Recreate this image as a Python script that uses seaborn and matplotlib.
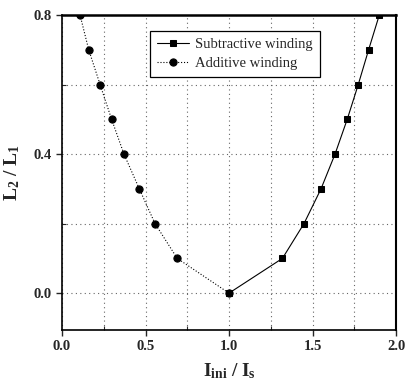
import numpy as np
import pandas as pd
import matplotlib
matplotlib.use("Agg")
import matplotlib.pyplot as plt
import seaborn as sns
from matplotlib.ticker import MultipleLocator

# Data
sub_x = [1.0, 1.32, 1.449, 1.551, 1.635, 1.708, 1.774, 1.836, 1.90]
sub_y = [0.0, 0.1, 0.2, 0.3, 0.4, 0.5, 0.6, 0.7, 0.8]
add_x = [0.108, 0.16, 0.228, 0.297, 0.371, 0.463, 0.557, 0.69, 1.0]
add_y = [0.8, 0.7, 0.6, 0.5, 0.4, 0.3, 0.2, 0.1, 0.0]
x_ticks = [0.0, 0.5, 1.0, 1.5, 2.0]
y_ticks = [0.0, 0.4, 0.8]

sns.set_style("ticks")
plt.rcParams['font.family'] = ['Liberation Serif', 'DejaVu Serif']
plt.rcParams['mathtext.fontset'] = 'custom'
plt.rcParams['mathtext.rm'] = 'Liberation Serif'
plt.rcParams['mathtext.bf'] = 'Liberation Serif:bold'
plt.rcParams['mathtext.it'] = 'Liberation Serif:italic'

fig = plt.figure(figsize=(4.08, 3.85), dpi=100)
ax = fig.add_axes([62/408, 55/385, (396-62)/408, (330-15)/385])

df_sub = pd.DataFrame({"x": sub_x, "y": sub_y})
df_add = pd.DataFrame({"x": add_x, "y": add_y})

sns.lineplot(data=df_sub, x="x", y="y", ax=ax, color="black", linewidth=0.8,
             linestyle='-', marker='s', markersize=4.8, markeredgecolor='black',
             label="Subtractive winding", sort=False)
sns.lineplot(data=df_add, x="x", y="y", ax=ax, color="black", linewidth=0.8,
             linestyle=':', marker='o', markersize=5.2, markeredgecolor='black',
             label="Additive winding", sort=False)

ax.set_xlim(0, 2.0)
ax.set_ylim(-0.106, 0.8)
ax.set_xticks(x_ticks)
ax.set_xticklabels([f"{v:.1f}" for v in x_ticks])
ax.set_yticks(y_ticks)
ax.set_yticklabels([f"{v:.1f}" for v in y_ticks])
ax.xaxis.set_minor_locator(MultipleLocator(0.25))
ax.yaxis.set_minor_locator(MultipleLocator(0.2))
ax.tick_params(which='major', direction='out', length=4, width=1, labelsize=10.5)
ax.tick_params(which='minor', direction='in', length=3, width=0.8)
for lab in ax.get_xticklabels() + ax.get_yticklabels():
    lab.set_fontweight('bold')

ax.grid(True, which='both', linestyle=(0, (1, 3)), color='#666666', linewidth=0.8)
for s in ax.spines.values():
    s.set_visible(True)
    s.set_color('black')
    s.set_linewidth(1.2)
ax.spines['top'].set_linewidth(1.8)
ax.spines['right'].set_linewidth(1.5)

ax.set_xlabel(r'$\mathbf{I}_{\mathbf{ini}}\ \mathbf{/}\ \mathbf{I}_{\mathbf{s}}$', fontsize=14, labelpad=6)
ax.set_ylabel(r'$\mathbf{L}_{\mathbf{2}}\ \mathbf{/}\ \mathbf{L}_{\mathbf{1}}$', fontsize=14, labelpad=8)

leg = ax.legend(loc='upper left', bbox_to_anchor=(88/334, 1 - 16/315), frameon=True,
                fancybox=False, edgecolor='black', framealpha=1, fontsize=10.5,
                handlelength=2.2, borderpad=0.5, labelspacing=0.35, handletextpad=0.4,
                borderaxespad=0)
leg.get_frame().set_linewidth(0.9)

fig.savefig("out.png", dpi=100)
